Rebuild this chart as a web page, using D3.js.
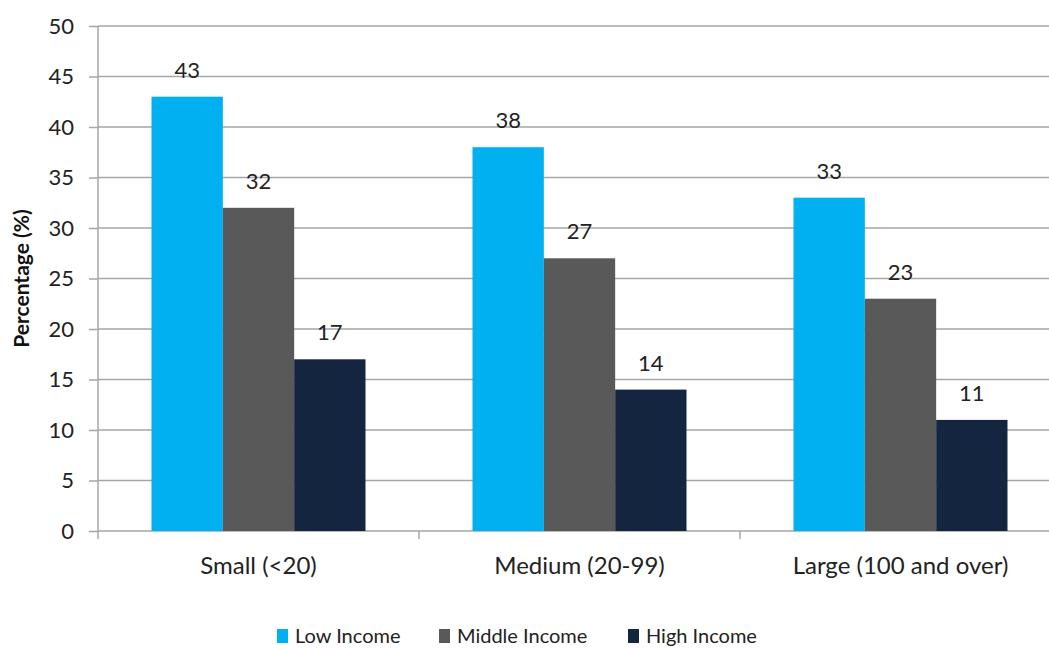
<!DOCTYPE html>
<html>
<head>
<meta charset="utf-8">
<script src="https://cdn.jsdelivr.net/npm/d3@7"></script>
<style>
  html, body { margin: 0; padding: 0; background: #fff; }
  svg { display: block; font-family: Lato, "Open Sans", sans-serif; }
</style>
</head>
<body>
<svg id="chart" width="1049" height="648"></svg>
<script>
// Share of households by firm size and income group
const categories = ["Small (<20)", "Medium (20-99)", "Large (100 and over)"];
const seriesNames = ["Low Income", "Middle Income", "High Income"];
const lowIncome = [43, 38, 33];
const middleIncome = [32, 27, 23];
const highIncome = [17, 14, 11];
const yTicks = [0, 5, 10, 15, 20, 25, 30, 35, 40, 45, 50];
const colors = ["#00B0F0", "#595959", "#14263F"];

const seriesValues = [lowIncome, middleIncome, highIncome];
const rows = categories.map((c, i) => ({
  category: c,
  values: seriesNames.map((s, k) => ({ series: s, value: seriesValues[k][i], color: colors[k] }))
}));

const svg = d3.select("#chart");
const margin = { left: 98, top: 26, bottom: 117 };
const plotBottom = 648 - margin.bottom;
const plotRight = margin.left + 3 * 321;

const x = d3.scaleBand().domain(categories).range([margin.left, plotRight]).paddingInner(0).paddingOuter(0);
const xInner = d3.scaleBand().domain(seriesNames).range([0, x.bandwidth()]).paddingInner(0).paddingOuter(0.75);
const y = d3.scaleLinear().domain([0, 50]).range([plotBottom, margin.top]);

// Horizontal gridlines
svg.append("g")
  .selectAll("line")
  .data(yTicks.filter(t => t > 0))
  .join("line")
  .attr("x1", margin.left).attr("x2", 1049)
  .attr("y1", d => y(d)).attr("y2", d => y(d))
  .attr("stroke", "#A6A6A6").attr("stroke-width", 1.5);

// Y axis
const yAxis = svg.append("g")
  .attr("transform", `translate(${margin.left},0)`)
  .call(d3.axisLeft(y).tickValues(yTicks).tickSize(9).tickPadding(15).tickFormat(d3.format("d")));
yAxis.select(".domain").attr("stroke", "#A6A6A6").attr("stroke-width", 1.5).attr("d", `M-0,${margin.top}V${plotBottom}`);
yAxis.selectAll(".tick line").attr("stroke", "#A6A6A6").attr("stroke-width", 1.5);
yAxis.selectAll(".tick text").attr("fill", "#222").style("font-size", "22px").style("font-family", "Lato, sans-serif");

// X axis
const xAxis = svg.append("g")
  .attr("transform", `translate(0,${plotBottom})`)
  .call(d3.axisBottom(x).tickSize(0).tickPadding(26));
xAxis.select(".domain").attr("stroke", "#A6A6A6").attr("stroke-width", 1.5).attr("d", `M${margin.left},0H1049`);
xAxis.selectAll(".tick text").attr("fill", "#222").style("font-size", "24px").style("font-family", "Lato, sans-serif");

// Category separator ticks
svg.append("g")
  .selectAll("line")
  .data([margin.left, ...categories.map(c => x(c) + x.bandwidth())])
  .join("line")
  .attr("x1", d => d).attr("x2", d => d)
  .attr("y1", plotBottom).attr("y2", plotBottom + 8)
  .attr("stroke", "#A6A6A6").attr("stroke-width", 1.5);

// Bars
const groups = svg.append("g")
  .selectAll("g")
  .data(rows)
  .join("g")
  .attr("transform", d => `translate(${x(d.category)},0)`);

groups.selectAll("rect")
  .data(d => d.values)
  .join("rect")
  .attr("x", d => xInner(d.series))
  .attr("width", xInner.bandwidth())
  .attr("y", d => y(d.value))
  .attr("height", d => plotBottom - y(d.value))
  .attr("fill", d => d.color);

// Value labels
groups.selectAll("text")
  .data(d => d.values)
  .join("text")
  .attr("x", d => xInner(d.series) + xInner.bandwidth() / 2)
  .attr("y", d => y(d.value) - 19)
  .attr("text-anchor", "middle")
  .attr("fill", "#222")
  .style("font-size", "22px")
  .text(d => d.value);

// Y axis title
svg.append("text")
  .attr("transform", `translate(29,${(margin.top + plotBottom) / 2}) rotate(-90)`)
  .attr("text-anchor", "middle")
  .attr("font-weight", "bold")
  .attr("fill", "#111")
  .style("font-size", "21px")
  .text("Percentage (%)");

// Legend
const legendX = [277, 439, 628];
const legend = svg.append("g")
  .selectAll("g")
  .data(seriesNames)
  .join("g")
  .attr("transform", (d, i) => `translate(${legendX[i]},629)`);
legend.append("rect").attr("width", 11).attr("height", 14).attr("fill", (d, i) => colors[i]);
legend.append("text")
  .attr("x", 18).attr("y", 14)
  .attr("fill", "#222")
  .style("font-size", "20px")
  .text(d => d);
</script>
</body>
</html>
